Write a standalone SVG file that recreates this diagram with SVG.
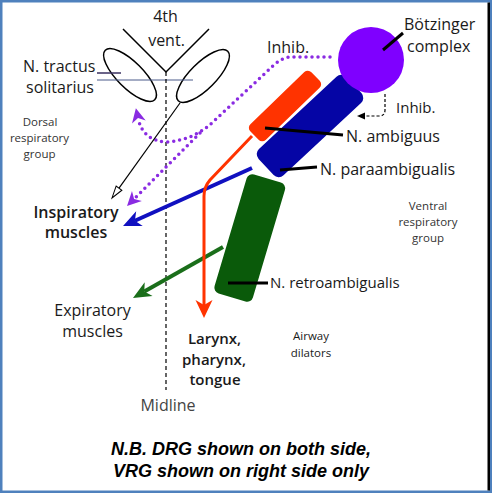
<svg xmlns="http://www.w3.org/2000/svg" width="492" height="493" viewBox="0 0 492 493">
<style>
.t{font-family:"Open Sans","Noto Sans",sans-serif;fill:#1a1a1a;font-size:16px}
.s{font-size:11.5px;fill:#333}
.b{font-weight:600}
.m{text-anchor:middle}
.nb{font-family:"Liberation Sans",Arial,sans-serif;font-weight:bold;font-style:italic;font-size:18px;text-anchor:middle;fill:#000}
.ptr{stroke:#000;stroke-width:3;fill:none}
</style>
<defs>
<marker id="ap" markerUnits="userSpaceOnUse" viewBox="0 0 14 14" markerWidth="14" markerHeight="14" refX="4" refY="7" orient="auto" overflow="visible"><path d="M0,0 L14,7 L0,14 L4,7 z" fill="#8a2be2"/></marker>
<marker id="ab" markerUnits="userSpaceOnUse" viewBox="0 0 18 16" markerWidth="18" markerHeight="16" refX="5" refY="8" orient="auto" overflow="visible"><path d="M0,0 L18,8 L0,16 L5,8 z" fill="#1010c0"/></marker>
<marker id="ag" markerUnits="userSpaceOnUse" viewBox="0 0 18 16" markerWidth="18" markerHeight="16" refX="5" refY="8" orient="auto" overflow="visible"><path d="M0,0 L18,8 L0,16 L5,8 z" fill="#1a6e1a"/></marker>
<marker id="ao" markerUnits="userSpaceOnUse" viewBox="0 0 18 17" markerWidth="18" markerHeight="17" refX="5" refY="8.5" orient="auto" overflow="visible"><path d="M0,0 L18,8.5 L0,17 L5,8.5 z" fill="#ff3300"/></marker>
<marker id="aw" markerUnits="userSpaceOnUse" viewBox="0 0 12 7" markerWidth="12" markerHeight="7" refX="0" refY="3.5" orient="auto" overflow="visible"><path d="M0,0 L12,3.5 L0,7 z" fill="#fff" stroke="#000" stroke-width="1"/></marker>
<marker id="ak" markerUnits="userSpaceOnUse" viewBox="0 0 8 7" markerWidth="8" markerHeight="7" refX="0" refY="3.5" orient="auto" overflow="visible"><path d="M0,0 L8,3.5 L0,7 z" fill="#000"/></marker>
</defs>
<rect x="1.25" y="1.25" width="489.5" height="490.5" fill="#fff" stroke="#4f81bd" stroke-width="2.5"/>
<rect x="487.5" y="2.5" width="2.5" height="488" fill="#000"/>

<g id="ventricle">
<path d="M123 29 L166 72 L209 29" fill="none" stroke="#000" stroke-width="1.5"/>
<text class="t m" x="165.5" y="22">4th</text>
<text class="t m" x="166.5" y="46">vent.</text>
</g>
<g id="nts">
<ellipse cx="130" cy="75" rx="35" ry="13" transform="rotate(45 130 75)" fill="none" stroke="#000" stroke-width="1.5"/>
<ellipse cx="203" cy="76" rx="35" ry="13" transform="rotate(-45 203 76)" fill="none" stroke="#000" stroke-width="1.5"/>
<line x1="97" y1="73" x2="121" y2="73" stroke="#3a3060" stroke-width="1.5"/>
<line x1="97" y1="80" x2="193" y2="80" stroke="#4a5a8a" stroke-width="1"/>
<text class="t" x="23" y="72">N. tractus</text>
<text class="t" x="26" y="93">solitarius</text>
</g>
<g id="drg-label">
<text class="t s m" x="40" y="126">Dorsal</text>
<text class="t s m" x="39.5" y="142">respiratory</text>
<text class="t s m" x="39.5" y="158">group</text>
</g>
<g id="midline">
<line x1="166" y1="72" x2="166" y2="390" stroke="#000" stroke-width="1.2" stroke-dasharray="4 3"/>
<text class="t m" x="168" y="411" style="fill:#444">Midline</text>
</g>

<g id="nrg">
<rect x="-20" y="-62" width="40" height="124" rx="6" transform="translate(249.75 238) rotate(16.6)" fill="#0a5a0a"/>
</g>
<g id="na">
<rect x="-42.5" y="-11" width="85" height="22" rx="5" transform="translate(285 106) rotate(-44)" fill="#ff3300"/>
</g>
<g id="npa">
<rect x="-60" y="-18" width="120" height="36" rx="7" transform="translate(310 126) rotate(-43)" fill="#0505a5"/>
</g>
<g id="botzinger">
<circle cx="371" cy="60" r="33" fill="#7f00ff"/>
</g>

<g id="connectors">
<path d="M330 57 H292 Q283 57 275 64 L215 120 Q195 140 167 142 Q143 141 138 118" fill="none" stroke="#8a2be2" stroke-width="3.5" stroke-linecap="round" stroke-dasharray="0 6" marker-end="url(#ap)"/>
<path d="M200 133 L134.1 198.9" fill="none" stroke="#8a2be2" stroke-width="3.5" stroke-linecap="round" stroke-dasharray="0 6" marker-end="url(#ap)"/>
<path d="M180 103 L119 188.2" fill="none" stroke="#000" stroke-width="1.2" marker-end="url(#aw)"/>
<path d="M252 168 L134.9 220.7" fill="none" stroke="#1010c0" stroke-width="4" marker-end="url(#ab)"/>
<path d="M223 247 L144.3 291.6" fill="none" stroke="#1a6e1a" stroke-width="4" marker-end="url(#ag)"/>
<path d="M252 136 L210 180 Q204 187 204 196 L204 305" fill="none" stroke="#ff3300" stroke-width="3" marker-end="url(#ao)"/>
<path d="M385 94 L385 110 Q385 116 379 116 L365 116" fill="none" stroke="#000" stroke-width="1.2" stroke-dasharray="3 2" marker-end="url(#ak)"/>
<line class="ptr" x1="383" y1="50" x2="403" y2="33"/>
<line class="ptr" x1="265" y1="128" x2="343" y2="135"/>
<line class="ptr" x1="280" y1="170" x2="317" y2="167"/>
<line class="ptr" x1="228" y1="283" x2="268" y2="283"/>
</g>

<g id="labels">
<text class="t" x="404" y="30">Bötzinger</text>
<text class="t" x="407" y="52">complex</text>
<text class="t" x="267" y="53">Inhib.</text>
<text class="t" x="396" y="113" style="font-size:15px">Inhib.</text>
<text class="t" x="346" y="142">N. ambiguus</text>
<text class="t" x="320" y="175">N. paraambigualis</text>
<text class="t" x="270" y="288" style="font-size:15px">N. retroambigualis</text>
<text class="t s m" x="428" y="210">Ventral</text>
<text class="t s m" x="428" y="226">respiratory</text>
<text class="t s m" x="428" y="242">group</text>
<text class="t b m" x="76" y="218">Inspiratory</text>
<text class="t b m" x="76" y="238">muscles</text>
<text class="t m" x="92.5" y="316" style="font-weight:500">Expiratory</text>
<text class="t m" x="92.5" y="337" style="font-weight:500">muscles</text>
<text class="t b m" x="214.5" y="344" style="font-size:15px">Larynx,</text>
<text class="t b m" x="214" y="364.5" style="font-size:15px">pharynx,</text>
<text class="t b m" x="215" y="385" style="font-size:15px">tongue</text>
<text class="t m" x="311" y="340" style="font-size:11.5px">Airway</text>
<text class="t m" x="311" y="356.5" style="font-size:11.5px">dilators</text>
<text class="nb" x="241" y="455">N.B. DRG shown on both side,</text>
<text class="nb" x="241" y="477">VRG shown on right side only</text>
</g>
</svg>
